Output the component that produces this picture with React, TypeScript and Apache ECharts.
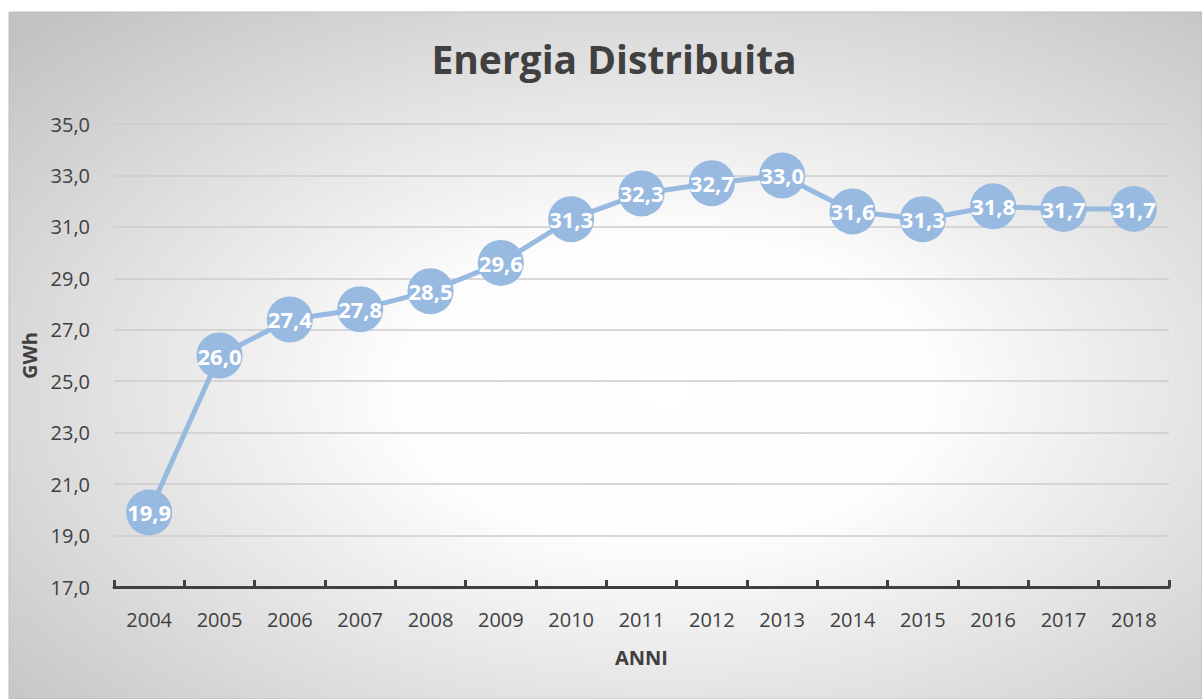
import React, { useEffect, useRef } from "react";
import * as echarts from "echarts";

const years = ["2004", "2005", "2006", "2007", "2008", "2009", "2010", "2011", "2012", "2013", "2014", "2015", "2016", "2017", "2018"];
const energy = [19.9, 26.0, 27.4, 27.8, 28.5, 29.6, 31.3, 32.3, 32.7, 33.0, 31.6, 31.3, 31.8, 31.7, 31.7];
const titleText = "Energia Distribuita";
const yName = "GWh";
const xName = "ANNI";

const FONT = "'Open Sans', 'Noto Sans', sans-serif";
const fmt = (v: number) => v.toFixed(1).replace(".", ",");

export default function App() {
  const ref = useRef<HTMLDivElement>(null);
  useEffect(() => {
    if (!ref.current) return;
    const chart = echarts.init(ref.current, null, { renderer: "svg" });
    chart.setOption({
      animation: false,
      textStyle: { fontFamily: FONT },
      graphic: [
        {
          type: "rect",
          z: -10,
          silent: true,
          shape: { x: 9, y: 12, width: 1193, height: 687 },
          style: {
            fill: {
              type: "radial",
              x: 0.55,
              y: 0.55,
              r: 0.75,
              colorStops: [
                { offset: 0, color: "#ffffff" },
                { offset: 0.3, color: "#fdfdfd" },
                { offset: 1, color: "#c2c2c2" },
              ],
            },
            stroke: "#bdbdbd",
            lineWidth: 1,
          },
        },
      ],
      title: {
        text: titleText,
        left: 614,
        top: 39,
        textAlign: "center",
        padding: 0,
        textStyle: { fontFamily: FONT, fontSize: 39, fontWeight: "bold", color: "#404040" },
      },
      grid: { left: 114, right: 33, top: 124, bottom: 112, containLabel: false },
      xAxis: {
        type: "category",
        data: years,
        boundaryGap: true,
        name: xName,
        nameLocation: "middle",
        nameGap: 60,
        nameTextStyle: { fontFamily: FONT, fontSize: 20, fontWeight: "bold", color: "#404040" },
        axisLine: { show: true, lineStyle: { color: "#404040", width: 3 } },
        axisTick: { show: true, inside: true, length: 7, lineStyle: { color: "#404040", width: 3 } },
        axisLabel: { margin: 22, fontFamily: FONT, fontSize: 20, color: "#404040" },
        splitLine: { show: false },
      },
      yAxis: {
        type: "value",
        min: 17,
        max: 35,
        interval: 2,
        name: yName,
        nameLocation: "middle",
        nameRotate: 90,
        nameGap: 75,
        nameTextStyle: { fontFamily: FONT, fontSize: 20, fontWeight: "bold", color: "#404040" },
        axisLine: { show: false },
        axisTick: { show: false },
        axisLabel: { margin: 24, fontFamily: FONT, fontSize: 20, color: "#404040", formatter: (v: number) => fmt(v) },
        splitLine: { show: true, lineStyle: { color: "#cccccc", width: 1.5 } },
      },
      series: [
        {
          type: "line",
          data: energy,
          symbol: "circle",
          symbolSize: 46,
          lineStyle: { color: "#98BAE0", width: 5 },
          itemStyle: { color: "#98BAE0" },
          label: {
            show: true,
            position: "inside",
            color: "#ffffff",
            fontFamily: FONT,
            fontWeight: "bold",
            fontSize: 22,
            formatter: (p: any) => fmt(p.value),
          },
        },
      ],
    });
    return () => chart.dispose();
  }, []);
  return <div ref={ref} style={{ position: "absolute", left: 0, top: 0, width: 1202, height: 699 }} />;
}
